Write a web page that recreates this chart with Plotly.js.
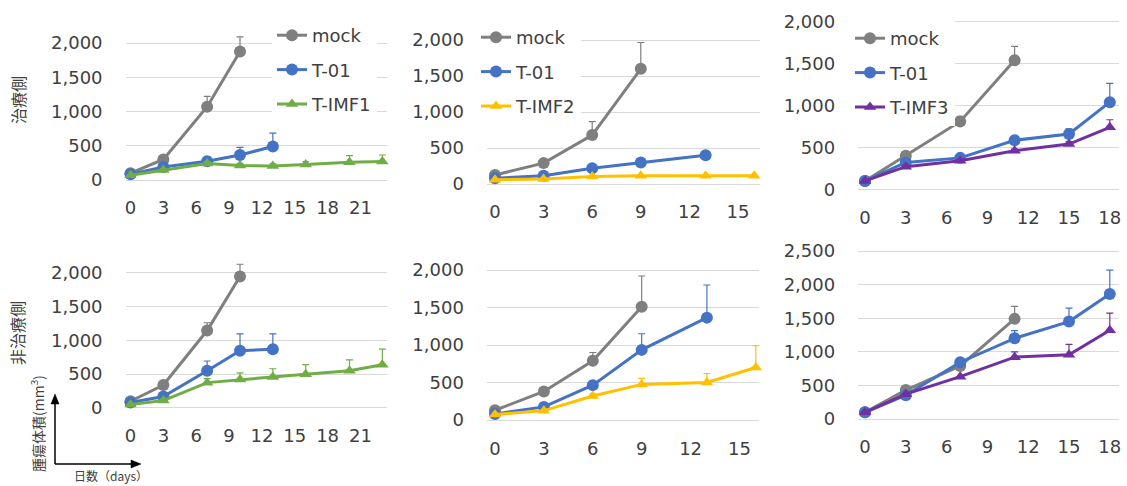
<!DOCTYPE html>
<html>
<head>
<meta charset="utf-8">
<script src="https://cdn.plot.ly/plotly-3.0.1.min.js"></script>
<style>html,body{margin:0;padding:0;background:#fff;}#chart{width:1127px;height:486px;}</style>
</head>
<body>
<div id="chart"></div>
<script>
// ---------- data ----------
const seriesNames = ["mock", "T-01", "T-IMF1", "T-IMF2", "T-IMF3"];
const yTicks2000 = [0, 500, 1000, 1500, 2000];
const yTicks2500 = [0, 500, 1000, 1500, 2000, 2500];
const xTicksA = [0, 3, 6, 9, 12, 15, 18, 21];
const xTicksB = [0, 3, 6, 9, 12, 15];
const xTicksC = [0, 3, 6, 9, 12, 15, 18];

// Panel 1 (治療側, T-IMF1)
const p1MockDays = [0, 3, 7, 10];
const p1MockVals = [100, 300, 1070, 1875];
const p1MockErr = [0, 15, 150, 215];
const p1T01Days = [0, 3, 7, 10, 13];
const p1T01Vals = [85, 190, 275, 365, 490];
const p1T01Err = [10, 20, 40, 110, 195];
const p1ImfDays = [0, 3, 7, 10, 13, 16, 20, 23];
const p1ImfVals = [70, 145, 240, 210, 205, 225, 260, 270];
const p1ImfErr = [10, 20, 30, 30, 30, 45, 95, 95];

// Panel 2 (治療側, T-IMF2)
const p2MockDays = [0, 3, 6, 9];
const p2MockVals = [125, 290, 680, 1600];
const p2MockErr = [0, 15, 185, 365];
const p2T01Days = [0, 3, 6, 9, 13];
const p2T01Vals = [80, 115, 220, 300, 400];
const p2T01Err = [5, 10, 20, 25, 30];
const p2ImfDays = [0, 3, 6, 9, 13, 16];
const p2ImfVals = [60, 70, 105, 115, 115, 115];
const p2ImfErr = [5, 5, 10, 10, 10, 10];

// Panel 3 (治療側, T-IMF3)
const p3MockDays = [0, 3, 7, 11];
const p3MockVals = [100, 400, 810, 1540];
const p3MockErr = [0, 20, 60, 165];
const p3T01Days = [0, 3, 7, 11, 15, 18];
const p3T01Vals = [100, 320, 375, 585, 660, 1040];
const p3T01Err = [0, 20, 20, 30, 60, 225];
const p3ImfDays = [0, 3, 7, 11, 15, 18];
const p3ImfVals = [100, 270, 340, 460, 540, 740];
const p3ImfErr = [0, 15, 20, 20, 30, 90];

// Panel 4 (非治療側, T-IMF1)
const p4MockDays = [0, 3, 7, 10];
const p4MockVals = [100, 340, 1145, 1945];
const p4MockErr = [0, 0, 115, 180];
const p4T01Days = [0, 3, 7, 10, 13];
const p4T01Vals = [80, 170, 550, 845, 870];
const p4T01Err = [0, 20, 145, 250, 225];
const p4ImfDays = [0, 3, 7, 10, 13, 16, 20, 23];
const p4ImfVals = [50, 110, 375, 420, 460, 500, 550, 640];
const p4ImfErr = [0, 20, 60, 100, 120, 140, 160, 230];

// Panel 5 (非治療側, T-IMF2)
const p5MockDays = [0, 3, 6, 9];
const p5MockVals = [130, 380, 790, 1510];
const p5MockErr = [0, 0, 110, 410];
const p5T01Days = [0, 3, 6, 9, 13];
const p5T01Vals = [80, 175, 465, 935, 1365];
const p5T01Err = [0, 0, 0, 215, 435];
const p5ImfDays = [0, 3, 6, 9, 13, 16];
const p5ImfVals = [75, 125, 320, 475, 500, 700];
const p5ImfErr = [0, 0, 30, 80, 120, 290];

// Panel 6 (非治療側, T-IMF3)
const p6MockDays = [0, 3, 7, 11];
const p6MockVals = [100, 430, 790, 1490];
const p6MockErr = [0, 0, 0, 185];
const p6T01Days = [0, 3, 7, 11, 15, 18];
const p6T01Vals = [100, 355, 845, 1200, 1450, 1860];
const p6T01Err = [0, 0, 0, 115, 200, 355];
const p6ImfDays = [0, 3, 7, 11, 15, 18];
const p6ImfVals = [100, 370, 630, 920, 955, 1320];
const p6ImfErr = [0, 0, 0, 80, 155, 255];

// ---------- styles / layout ----------
const W = 1127, H = 486;
const FONT = "DejaVu Sans, Verdana, sans-serif";
const CJK = "Noto Sans CJK JP, sans-serif";
const TXT = "#404040";
const colors = {mock: "#7F7F7F", t01: "#4472C4", imf1: "#70AD47", imf2: "#FFC000", imf3: "#7030A0"};

// pixel geometry per panel: x0 = pixel of day 0, kx = px/day, y0 = pixel of value 0, ky = px/unit
const panels = [
  {x0: 130.5, kx: 10.95, xr: [-0.45, 23.4], y0: 180, ky: 137 / 2000, yr: [-100, 2200], yt: yTicks2000, xt: xTicksA},
  {x0: 495, kx: 16.2, xr: [-0.5, 16.35], y0: 184, ky: 0.072, yr: [-100, 2100], yt: yTicks2000, xt: xTicksB},
  {x0: 865, kx: 13.6, xr: [-0.5, 18.7], y0: 189.3, ky: 0.0838, yr: [-100, 2050], yt: yTicks2000, xt: xTicksC},
  {x0: 130.5, kx: 10.95, xr: [-0.45, 23.4], y0: 408, ky: 0.06765, yr: [-100, 2250], yt: yTicks2000, xt: xTicksA},
  {x0: 495, kx: 16.3, xr: [-0.5, 16.2], y0: 420, ky: 0.075, yr: [-100, 2050], yt: yTicks2000, xt: xTicksB},
  {x0: 865, kx: 13.6, xr: [-0.5, 18.7], y0: 419, ky: 0.0672, yr: [-100, 2600], yt: yTicks2500, xt: xTicksC}
];

const panelData = [
  [[p1MockDays, p1MockVals, p1MockErr, 0, colors.mock], [p1T01Days, p1T01Vals, p1T01Err, 1, colors.t01], [p1ImfDays, p1ImfVals, p1ImfErr, 2, colors.imf1]],
  [[p2MockDays, p2MockVals, p2MockErr, 0, colors.mock], [p2T01Days, p2T01Vals, p2T01Err, 1, colors.t01], [p2ImfDays, p2ImfVals, p2ImfErr, 3, colors.imf2]],
  [[p3MockDays, p3MockVals, p3MockErr, 0, colors.mock], [p3T01Days, p3T01Vals, p3T01Err, 1, colors.t01], [p3ImfDays, p3ImfVals, p3ImfErr, 4, colors.imf3]],
  [[p4MockDays, p4MockVals, p4MockErr, 0, colors.mock], [p4T01Days, p4T01Vals, p4T01Err, 1, colors.t01], [p4ImfDays, p4ImfVals, p4ImfErr, 2, colors.imf1]],
  [[p5MockDays, p5MockVals, p5MockErr, 0, colors.mock], [p5T01Days, p5T01Vals, p5T01Err, 1, colors.t01], [p5ImfDays, p5ImfVals, p5ImfErr, 3, colors.imf2]],
  [[p6MockDays, p6MockVals, p6MockErr, 0, colors.mock], [p6T01Days, p6T01Vals, p6T01Err, 1, colors.t01], [p6ImfDays, p6ImfVals, p6ImfErr, 4, colors.imf3]]
];

const traces = [];
const layout = {
  width: W, height: H,
  margin: {l: 0, r: 0, t: 0, b: 0},
  paper_bgcolor: "#fff", plot_bgcolor: "rgba(0,0,0,0)",
  font: {family: FONT, size: 18, color: TXT},
  showlegend: true,
  annotations: [], shapes: []
};

panels.forEach((p, i) => {
  const n = i + 1;
  const xl = p.x0 + p.xr[0] * p.kx, xr = p.x0 + p.xr[1] * p.kx;
  const yb = p.y0 - p.yr[0] * p.ky, ytp = p.y0 - p.yr[1] * p.ky;
  const xa = "xaxis" + (n === 1 ? "" : n), ya = "yaxis" + (n === 1 ? "" : n);
  const zeroBelow = -p.yr[0] * p.ky; // px from domain bottom to 0 line
  layout[xa] = {
    domain: [xl / W, xr / W], range: p.xr, anchor: "y" + (n === 1 ? "" : n),
    tickmode: "array", tickvals: p.xt, ticktext: p.xt.map(String),
    showgrid: false, zeroline: false, showline: false, ticks: "",
    ticklabelstandoff: Math.max(0, Math.round(28 - zeroBelow - 13)),
    tickfont: {family: FONT, size: 18, color: TXT}, fixedrange: true
  };
  layout[ya] = {
    domain: [1 - yb / H, 1 - ytp / H], range: p.yr, anchor: "x" + (n === 1 ? "" : n),
    tickmode: "array", tickvals: p.yt, tickformat: ",d",
    showgrid: true, gridcolor: "#D9D9D9", gridwidth: 1,
    zeroline: false, showline: false, ticks: "",
    ticklabelstandoff: 22,
    tickfont: {family: FONT, size: 18, color: TXT}, fixedrange: true
  };
  panelData[i].forEach(s => {
    const [days, vals, err, nameIdx, col] = s;
    const isTri = nameIdx >= 2;
    const legendName = n <= 3 ? (n === 1 ? "legend" : "legend" + n) : undefined;
    traces.push({
      type: "scatter", mode: "lines+markers",
      x: days, y: vals, name: seriesNames[nameIdx],
      xaxis: "x" + (n === 1 ? "" : n), yaxis: "y" + (n === 1 ? "" : n),
      line: {color: col, width: 3},
      marker: {color: col, size: isTri ? 11 : 12, symbol: isTri ? "triangle-up" : "circle"},
      error_y: {type: "data", symmetric: false, array: err, arrayminus: err.map(() => 0),
                color: col, thickness: 1.2, width: 3.5},
      cliponaxis: false,
      showlegend: n <= 3,
      legend: legendName,
      legendgroup: "p" + n + "_" + nameIdx
    });
  });
});

const legendBase = {
  bgcolor: "#fff", borderwidth: 0, font: {family: FONT, size: 18, color: TXT},
  xanchor: "left", yanchor: "top", tracegroupgap: 8, itemwidth: 30, traceorder: "grouped"
};
layout.legend = Object.assign({}, legendBase, {x: 272 / W, y: 1 - 17 / H});
layout.legend2 = Object.assign({}, legendBase, {x: 476 / W, y: 1 - 19 / H});
layout.legend3 = Object.assign({}, legendBase, {x: 850 / W, y: 1 - 20 / H});

// side labels
layout.annotations.push(
  {text: "治療側", x: 18 / W, y: 1 - 100 / H, xref: "paper", yref: "paper", showarrow: false,
   textangle: -90, font: {family: CJK, size: 16, color: "#404040"}, xanchor: "center", yanchor: "middle"},
  {text: "非治療側", x: 17 / W, y: 1 - 333 / H, xref: "paper", yref: "paper", showarrow: false,
   textangle: -90, font: {family: CJK, size: 16, color: "#404040"}, xanchor: "center", yanchor: "middle"},
  {text: "腫瘍体積(mm<sup>3</sup>)", x: 37 / W, y: 1 - 424 / H, xref: "paper", yref: "paper", showarrow: false,
   textangle: -90, font: {family: CJK, size: 14, color: "#404040"}, xanchor: "center", yanchor: "middle"},
  {text: "日数（days）", x: 111 / W, y: 1 - 475 / H, xref: "paper", yref: "paper", showarrow: false,
   font: {family: CJK, size: 12, color: "#404040"}, xanchor: "center", yanchor: "middle", borderpad: 0}
);

// axis-direction arrows (drawn as shapes in paper space)
const px = v => v / W, py = v => 1 - v / H;
layout.shapes.push(
  {type: "line", xref: "paper", yref: "paper", x0: px(55), y0: py(464), x1: px(55), y1: py(402),
   line: {color: "#000", width: 1.5}},
  {type: "path", xref: "paper", yref: "paper",
   path: `M ${px(55)} ${py(394)} L ${px(51)} ${py(404)} L ${px(59)} ${py(404)} Z`,
   fillcolor: "#000", line: {color: "#000", width: 0.5}},
  {type: "line", xref: "paper", yref: "paper", x0: px(55), y0: py(464), x1: px(133), y1: py(464),
   line: {color: "#000", width: 1.5}},
  {type: "path", xref: "paper", yref: "paper",
   path: `M ${px(141)} ${py(464)} L ${px(131)} ${py(460)} L ${px(131)} ${py(468)} Z`,
   fillcolor: "#000", line: {color: "#000", width: 0.5}}
);

Plotly.newPlot("chart", traces, layout, {displayModeBar: false, staticPlot: true});
</script>
</body>
</html>
